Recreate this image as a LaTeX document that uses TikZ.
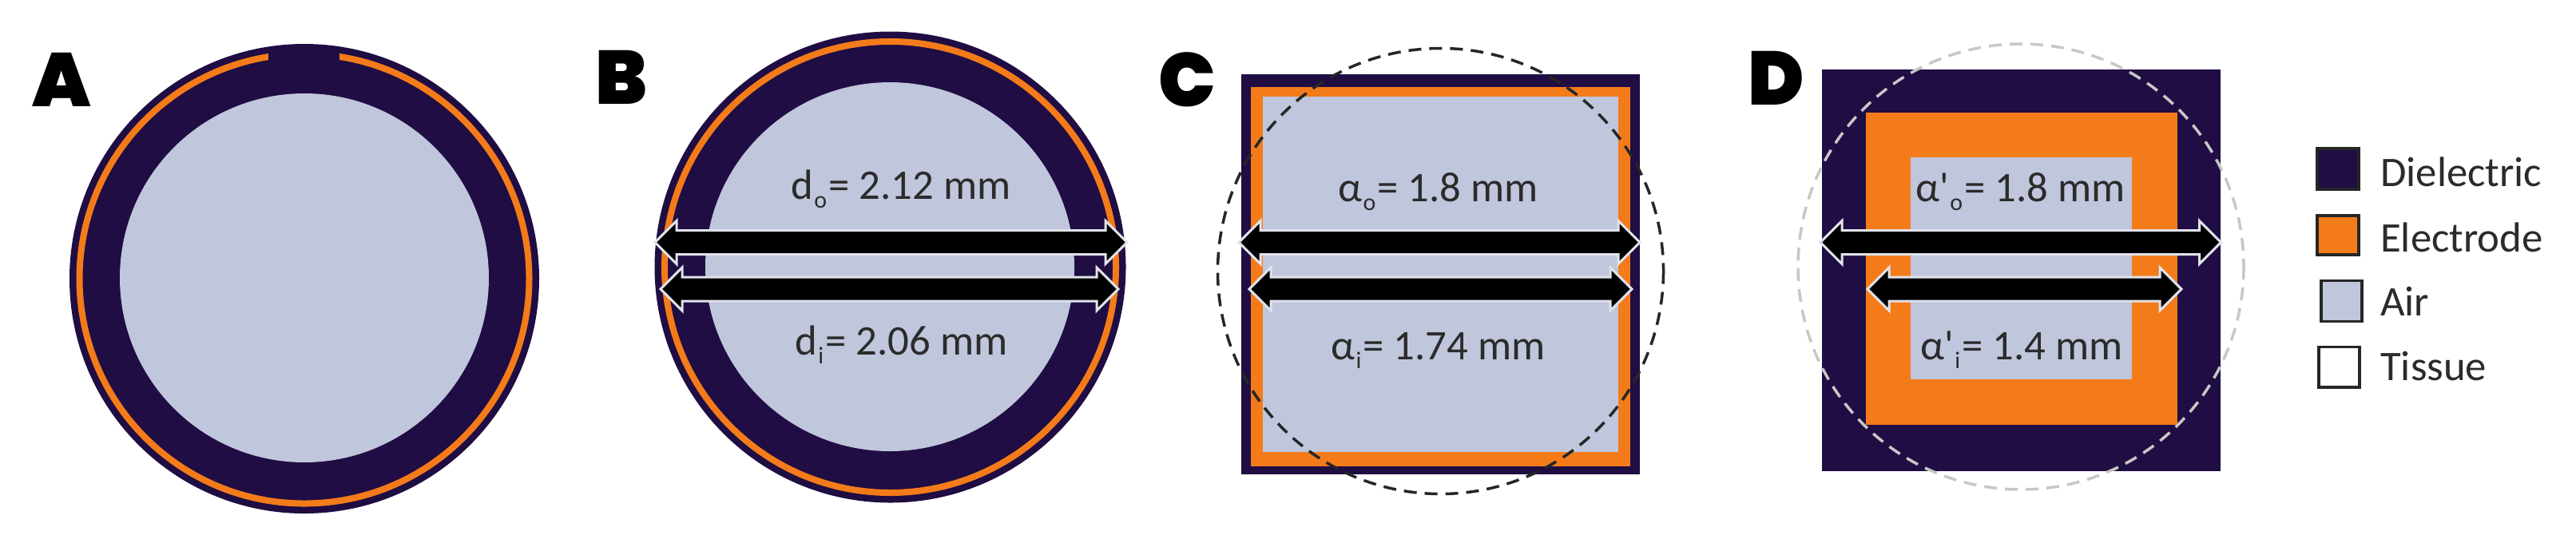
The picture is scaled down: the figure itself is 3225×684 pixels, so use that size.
\documentclass[tikz,border=0pt]{standalone}
\usepackage{fontspec}
\setmainfont{Carlito}
\newfontfamily\heavyfont{Poppins Black}
\newfontfamily\plainfont{Carlito}
\definecolor{diel}{HTML}{1F0D43}
\definecolor{elec}{HTML}{F47B1A}
\definecolor{airc}{HTML}{C0C6DC}
\definecolor{txt}{HTML}{2B2B2B}
\definecolor{rim}{HTML}{E0E2EA}
\newcommand{\sub}[1]{\kern0.3pt\raisebox{-3.2pt}{\fontsize{8.5}{10}\selectfont #1}\kern0.6pt}
\newcommand{\dimarrow}[4]{%
  \coordinate (#1l) at (#2,#4);
  \coordinate (#1r) at (#3,#4);
  \draw[blockarrow] (#1l) -- ++(27,-27) -- ++(0,12) -- ($(#1r)+(-27,-15)$) -- ++(0,-12) -- (#1r) -- ++(-27,27) -- ++(0,-12) -- ($(#1l)+(27,15)$) -- ++(0,12) -- cycle;}
\usetikzlibrary{calc}
\tikzset{
  x=0.01cm,y=-0.01cm,
  dielfill/.style={fill=diel,draw=none},
  elecring/.style={draw=elec,line width=0.08cm,fill=none},
  airfill/.style={fill=airc,draw=none},
  blockarrow/.style={fill=black,draw=rim,line width=0.03cm,miter limit=10},
  tissue/.style={dash pattern=on 0.16cm off 0.10cm,line width=0.035cm,fill=none},
  lab/.style={anchor=base west,inner sep=0pt,text=txt,font=\fontsize{15}{18}\selectfont},
  panel/.style={anchor=base west,inner sep=0pt,text=black,font=\heavyfont\fontsize{27}{30}\selectfont},
  swatch/.style={draw=black!85,line width=0.035cm},
}
\begin{document}
\begin{tikzpicture}
\useasboundingbox[fill=white] (0,0) rectangle (3225,684);
% A
\fill[dielfill] (381,349) circle[radius=294];
\draw[elecring] (381,349) circle[radius=281.5];
\fill[dielfill] (336,60) rectangle (424.5,85);
\fill[airfill] (381,348) circle[radius=231];
\node[panel] (pa) at (40,133) {A};
% B
\fill[dielfill] (1114.5,334.5) circle[radius=295];
\draw[elecring] (1114.5,334.5) circle[radius=282.5];
\fill[airfill] (1114,334) circle[radius=231];
\node[panel] (pb) at (745,130) {B};
\dimarrow{bo}{820}{1411}{303.5}
\dimarrow{bi}{827}{1400}{362}
\node[lab] (bot) at (990,249) {d\sub{o}= 2.12 mm};
\node[lab] (bit) at (995,444.5) {d\sub{i}= 2.06 mm};
% C
\fill[dielfill] (1554,93) rectangle (2053,594);
\fill[elec] (1566.4,109) rectangle (2040.5,584);
\fill[airfill] (1581,121.4) rectangle (2026,566);
\node[panel] (pc) at (1450,133) {C};
\dimarrow{co}{1551}{2053}{303.5}
\dimarrow{ci}{1564}{2043}{362}
\node[lab] (cot) at (1675,252) {α\sub{o}= 1.8 mm};
\node[lab] (cit) at (1666,450) {α\sub{i}= 1.74 mm};
\draw[tissue,draw=black!85] (1803.5,339.5) circle[radius=279];
% D
\fill[dielfill] (2280.5,87) rectangle (2780,589.5);
\fill[elec] (2336,141) rectangle (2725.5,532);
\fill[airfill] (2392,197) rectangle (2669,475);
\node[panel] (pd) at (2188,131) {D};
\dimarrow{do}{2279}{2780.5}{303.5}
\dimarrow{di}{2338}{2731}{362}
\node[lab] (dot) at (2398,252) {α{\plainfont'}\sub{o}= 1.8 mm};
\node[lab] (dit) at (2404,450) {α{\plainfont'}\sub{i}= 1.4 mm};
\draw[tissue,draw=black!22] (2530,334) circle[radius=279];
% Legend
\draw[swatch,fill=diel] (2901,186) rectangle (2953,237);
\draw[swatch,fill=elec] (2901,270) rectangle (2953,319);
\draw[swatch,fill=airc] (2906,351.5) rectangle (2957,402.6);
\draw[swatch,fill=white] (2903,434.5) rectangle (2954,485);
\node[lab] (l1) at (2979.5,233.6) {Dielectric};
\node[lab] (l2) at (2979.5,315) {Electrode};
\node[lab] (l3) at (2979.5,395) {Air};
\node[lab] (l4) at (2979.5,476) {Tissue};
\end{tikzpicture}
\end{document}
